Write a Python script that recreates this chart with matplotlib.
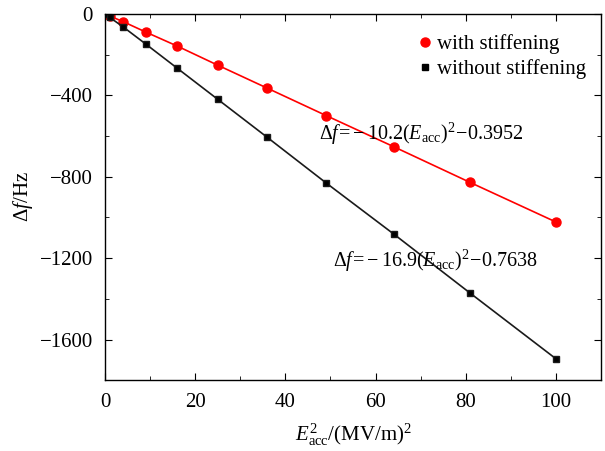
import matplotlib
matplotlib.use('Agg')
import matplotlib.pyplot as plt
from matplotlib.ticker import MultipleLocator
from matplotlib.lines import Line2D

# E_acc^2 values and frequency shifts
e2 = [0, 1, 4, 9, 16, 25, 36, 49, 64, 81, 100]
df_with = [0, -10, -38, -89, -158, -252, -365, -499, -652, -828, -1022]
df_without = [0, -17, -64, -148, -267, -420, -607, -830, -1081, -1372, -1694]

plt.rcParams['font.family'] = ['Liberation Serif', 'DejaVu Serif']
plt.rcParams['mathtext.fontset'] = 'custom'
plt.rcParams['mathtext.rm'] = 'Liberation Serif'
plt.rcParams['mathtext.it'] = 'Liberation Serif:italic'
plt.rcParams['axes.unicode_minus'] = True

fig = plt.figure(figsize=(6.05, 4.51), dpi=100)
ax = fig.add_axes([0.174, 0.157, 0.819, 0.812])

ax.plot(e2, df_with, color='#ff0000', lw=1.2, marker='o', ms=6.5)
ax.plot(e2, df_without, color='#1a1a1a', lw=1.2, marker='s', ms=5,
        markerfacecolor='black')

ax.set_xlim(0, 110)
ax.set_ylim(-1800, 0)
ax.xaxis.set_minor_locator(MultipleLocator(10))
ax.yaxis.set_minor_locator(MultipleLocator(200))
ax.set_xticks([0, 20, 40, 60, 80, 100])
ax.set_yticks([0, -400, -800, -1200, -1600])
ax.tick_params(which='both', direction='in', top=True, right=True,
               labelsize=15, pad=9)
ax.tick_params(which='major', length=5)
ax.tick_params(which='minor', length=3)

ax.set_xlabel(r'$E_{\mathrm{acc}}^{2}$/(MV/m)$^{2}$', fontsize=15, labelpad=7)
ax.set_ylabel(r'$\Delta f$/Hz', fontsize=15, labelpad=3)

ax.text(47.5, -587, r'$\Delta f\!=\!-10.2(E_{\mathrm{acc}})^{2}\!-\!0.3952$',
        fontsize=14.5, va='center')
ax.text(50.5, -1213, r'$\Delta f\!=\!-16.9(E_{\mathrm{acc}})^{2}\!-\!0.7638$',
        fontsize=14.5, va='center')

handles = [
    Line2D([], [], ls='none', marker='o', ms=6.5, color='#ff0000'),
    Line2D([], [], ls='none', marker='s', ms=5, color='black'),
]
ax.legend(handles, ['with stiffening', 'without stiffening'],
          loc='upper right', frameon=False, fontsize=15, handlelength=0.5,
          handletextpad=0.35, borderaxespad=0.3, labelspacing=0.25,
          bbox_to_anchor=(1.0, 0.985))

for s in ax.spines.values():
    s.set_linewidth(1.0)

fig.savefig('out.png', dpi=100)
plt.close(fig)
